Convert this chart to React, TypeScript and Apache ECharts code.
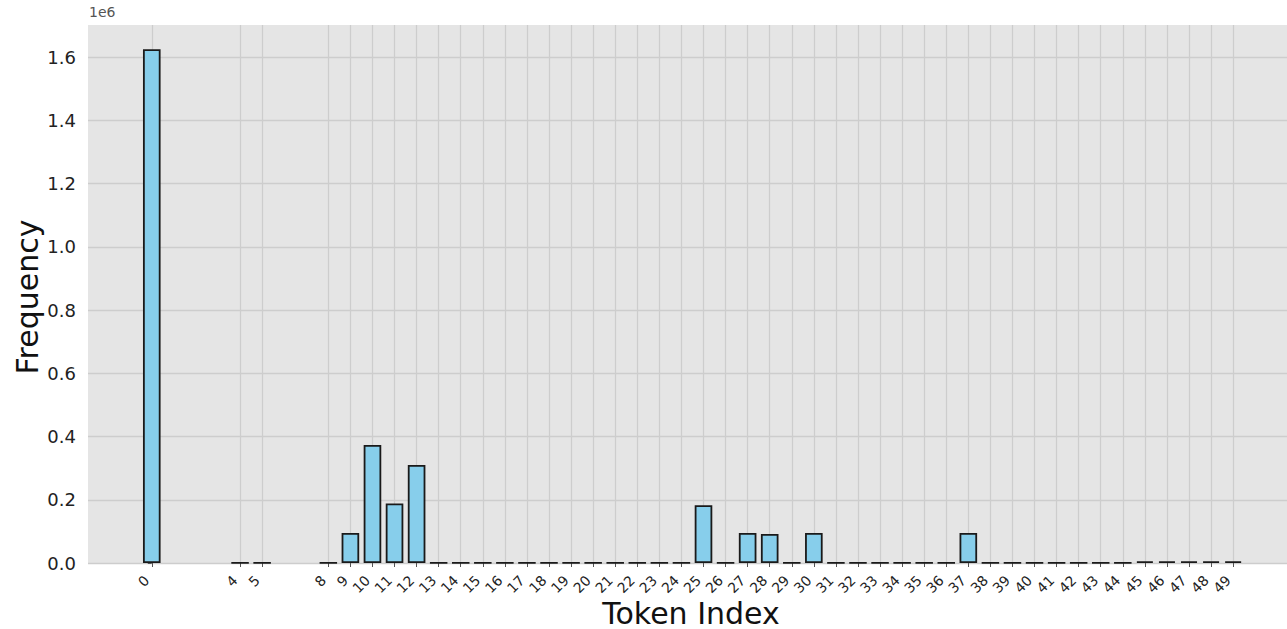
import React, { useEffect, useRef } from "react";
import * as echarts from "echarts";

const tokenIndex = [0, 4, 5, 8, 9, 10, 11, 12, 13, 14, 15, 16, 17, 18, 19, 20, 21, 22, 23, 24, 25, 26, 27, 28, 29, 30, 31, 32, 33, 34, 35, 36, 37, 38, 39, 40, 41, 42, 43, 44, 45, 46, 47, 48, 49];
const frequency = [
  1625000, 300, 300, 300, 95000, 373000, 188000, 310000,
  300, 300, 300, 300, 300, 300, 300, 300, 300, 300, 300, 300,
  183000, 300, 95000, 92000, 300, 95000,
  300, 300, 300, 300, 300, 300,
  95000,
  300, 300, 300, 300, 300, 300, 300,
  5000, 5000, 5000, 5000, 5000,
];
const yTicks = [0, 200000, 400000, 600000, 800000, 1000000, 1200000, 1400000, 1600000];

export default function App() {
  const ref = useRef<HTMLDivElement>(null);
  useEffect(() => {
    if (!ref.current) return;
    const chart = echarts.init(ref.current, undefined, { renderer: "svg" });
    const font = "DejaVu Sans";
    chart.setOption({
      animation: false,
      backgroundColor: "#ffffff",
      textStyle: { fontFamily: font },
      grid: { left: 88, right: 0, top: 25, bottom: 66, show: true, backgroundColor: "#e5e5e5", borderWidth: 0 },
      xAxis: {
        type: "value",
        min: -2.89,
        max: 51.44,
        axisLine: { show: false },
        axisTick: { show: true, customValues: tokenIndex, length: 4, lineStyle: { color: "#555", width: 1 } },
        axisLabel: {
          customValues: tokenIndex,
          rotate: 45,
          fontSize: 14,
          color: "#222",
          margin: 10,
          padding: [0, 7, 0, 0],
          fontFamily: font,
          formatter: (v: number) => String(v),
        },
        splitLine: { show: true, lineStyle: { color: "#cdcdcd", width: 1.3 } },
      },
      yAxis: {
        type: "value",
        min: 0,
        max: 1701300,
        axisLine: { show: false },
        axisTick: { show: true, customValues: yTicks, length: 4, lineStyle: { color: "#555", width: 1 } },
        axisLabel: {
          customValues: yTicks,
          fontSize: 18,
          color: "#222",
          margin: 12,
          fontFamily: font,
          formatter: (v: number) => (v / 1e6).toFixed(1),
        },
        splitLine: { show: true, lineStyle: { color: "#cdcdcd", width: 1.3 } },
      },
      graphic: [
        { type: "text", left: 89, top: 5, style: { text: "1e6", fontSize: 14, fill: "#555", fontFamily: font } },
        {
          type: "text",
          x: 27,
          y: 297,
          rotation: Math.PI / 2,
          style: { text: "Frequency", fontSize: 30, fill: "#111", fontFamily: font, align: "center", verticalAlign: "middle" },
        },
        {
          type: "text",
          x: 691,
          y: 613,
          style: { text: "Token Index", fontSize: 30, fill: "#111", fontFamily: font, align: "center", verticalAlign: "middle" },
        },
      ],
      series: [
        {
          type: "bar",
          data: tokenIndex.map((t, i) => [t, frequency[i]]),
          barWidth: 17.6,
          itemStyle: { color: "#87ceeb", borderColor: "#1a1a1a", borderWidth: 1.8 },
        },
      ],
    });
    return () => chart.dispose();
  }, []);
  return <div ref={ref} style={{ position: "fixed", left: 0, top: 0, width: 1287, height: 629 }} />;
}
